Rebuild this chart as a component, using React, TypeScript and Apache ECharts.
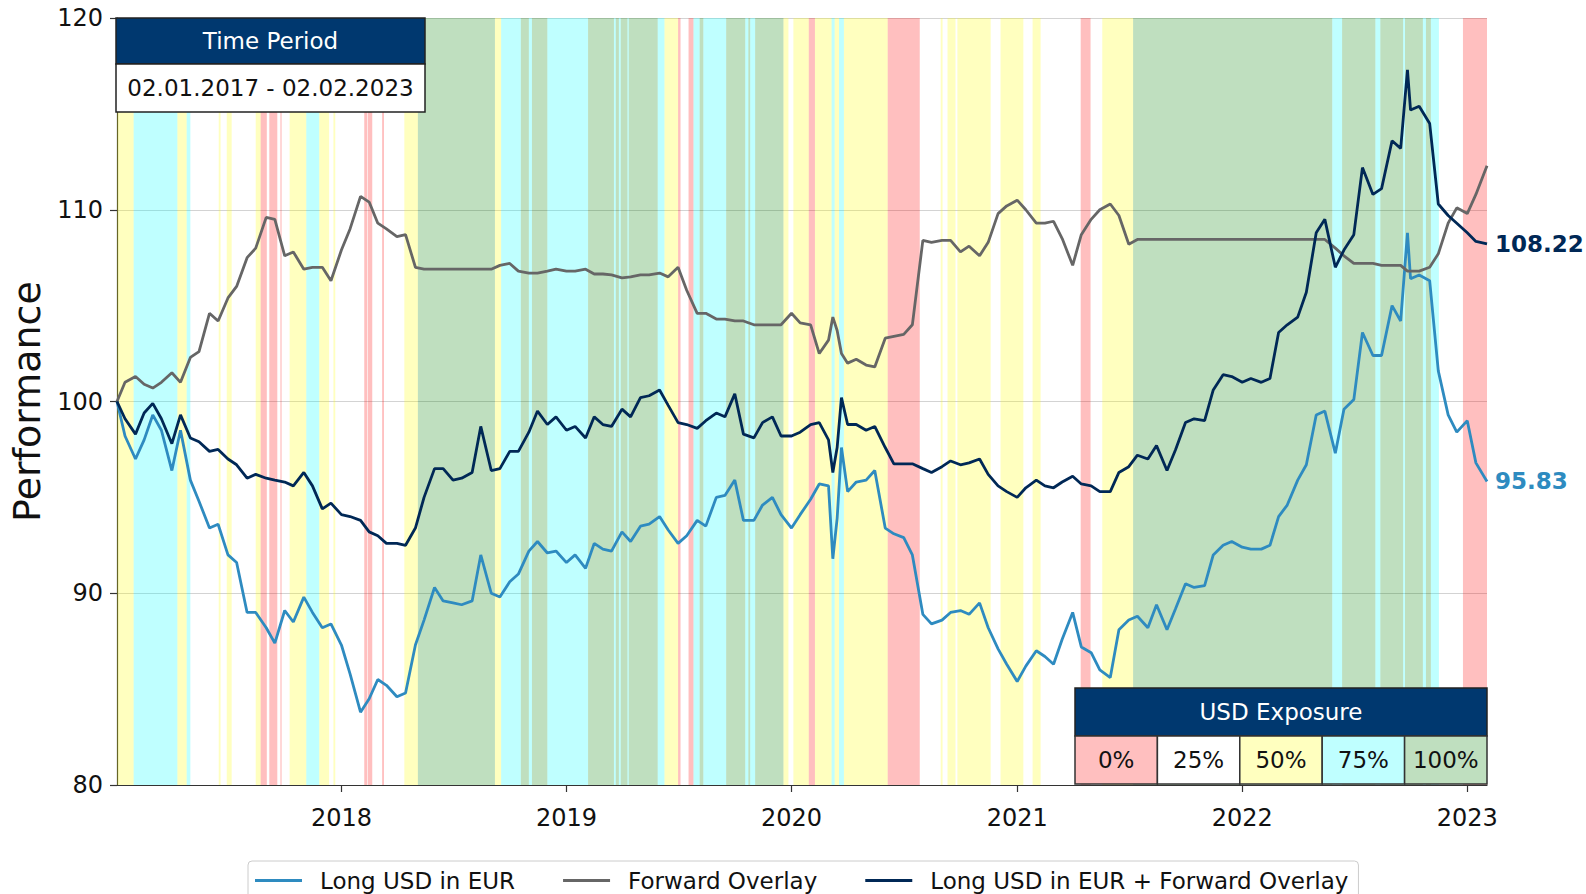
import React, { useEffect, useRef } from "react";
import * as echarts from "echarts";

const FONT = "DejaVu Sans";

const dates = [
  "2017-01-02", "2017-01-15", "2017-02-01", "2017-02-15", "2017-03-01", "2017-03-15", "2017-04-01", "2017-04-15",
  "2017-05-01", "2017-05-15", "2017-06-01", "2017-06-15", "2017-07-01", "2017-07-15", "2017-08-01", "2017-08-15",
  "2017-09-01", "2017-09-15", "2017-10-01", "2017-10-15", "2017-11-01", "2017-11-15", "2017-12-01", "2017-12-15",
  "2018-01-01", "2018-01-15", "2018-02-01", "2018-02-15", "2018-03-01", "2018-03-15", "2018-04-01", "2018-04-15",
  "2018-05-01", "2018-05-15", "2018-06-01", "2018-06-15", "2018-07-01", "2018-07-15", "2018-08-01", "2018-08-15",
  "2018-09-01", "2018-09-15", "2018-10-01", "2018-10-15", "2018-11-01", "2018-11-15", "2018-12-01", "2018-12-15",
  "2019-01-01", "2019-01-15", "2019-02-01", "2019-02-15", "2019-03-01", "2019-03-15", "2019-04-01", "2019-04-15",
  "2019-05-01", "2019-05-15", "2019-06-01", "2019-06-15", "2019-07-01", "2019-07-15", "2019-08-01", "2019-08-15",
  "2019-09-01", "2019-09-15", "2019-10-01", "2019-10-15", "2019-11-01", "2019-11-15", "2019-12-01", "2019-12-15",
  "2020-01-01", "2020-01-15", "2020-02-01", "2020-02-15", "2020-03-01", "2020-03-08", "2020-03-15", "2020-03-22",
  "2020-04-01", "2020-04-15", "2020-05-01", "2020-05-15", "2020-06-01", "2020-06-15", "2020-07-01", "2020-07-15",
  "2020-08-01", "2020-08-15", "2020-09-01", "2020-09-15", "2020-10-01", "2020-10-15", "2020-11-01", "2020-11-15",
  "2020-12-01", "2020-12-15", "2021-01-01", "2021-01-15", "2021-02-01", "2021-02-15", "2021-03-01", "2021-03-15",
  "2021-04-01", "2021-04-15", "2021-05-01", "2021-05-15", "2021-06-01", "2021-06-15", "2021-07-01", "2021-07-15",
  "2021-08-01", "2021-08-15", "2021-09-01", "2021-09-15", "2021-10-01", "2021-10-15", "2021-11-01", "2021-11-15",
  "2021-12-01", "2021-12-15", "2022-01-01", "2022-01-15", "2022-02-01", "2022-02-15", "2022-03-01", "2022-03-15",
  "2022-04-01", "2022-04-15", "2022-05-01", "2022-05-15", "2022-06-01", "2022-06-15", "2022-07-01", "2022-07-15",
  "2022-08-01", "2022-08-15", "2022-09-01", "2022-09-15", "2022-09-26", "2022-10-01", "2022-10-15", "2022-11-01",
  "2022-11-15", "2022-12-01", "2022-12-15", "2023-01-01", "2023-01-15", "2023-02-02",
];

const longUsdInEur = [
  100, 98.2, 97.0, 98.0, 99.3, 98.5, 96.4, 98.5,
  95.9, 94.8, 93.4, 93.6, 92.0, 91.6, 89.0, 89.0,
  88.2, 87.4, 89.1, 88.5, 89.8, 89.0, 88.2, 88.4,
  87.3, 85.8, 83.8, 84.5, 85.5, 85.2, 84.6, 84.8,
  87.3, 88.6, 90.3, 89.6, 89.5, 89.4, 89.6, 92.0,
  90.0, 89.8, 90.6, 91.0, 92.2, 92.7, 92.1, 92.2,
  91.6, 92.0, 91.3, 92.6, 92.3, 92.2, 93.2, 92.7,
  93.5, 93.6, 94.0, 93.3, 92.6, 93.0, 93.8, 93.5,
  95.0, 95.1, 95.9, 93.8, 93.8, 94.6, 95.0, 94.1,
  93.4, 94.1, 94.9, 95.7, 95.6, 91.8, 93.9, 97.6,
  95.3, 95.8, 95.9, 96.4, 93.4, 93.1, 92.9, 92.0,
  88.9, 88.4, 88.6, 89.0, 89.1, 88.9, 89.5, 88.2,
  87.1, 86.3, 85.4, 86.2, 87.0, 86.7, 86.3, 87.6,
  89.0, 87.2, 86.9, 86.0, 85.6, 88.1, 88.6, 88.8,
  88.2, 89.4, 88.1, 89.2, 90.5, 90.3, 90.4, 92.0,
  92.5, 92.7, 92.4, 92.3, 92.3, 92.5, 94.0, 94.6,
  95.9, 96.7, 99.3, 99.5, 97.3, 99.6, 100.1, 103.6,
  102.4, 102.4, 105.0, 104.2, 108.8, 106.4, 106.6, 106.3,
  101.6, 99.3, 98.4, 99.0, 96.8, 95.83,
];

const forwardOverlay = [
  100, 101.0, 101.3, 100.9, 100.7, 101.0, 101.5, 101.0,
  102.3, 102.6, 104.6, 104.2, 105.4, 106.0, 107.5, 108.0,
  109.6, 109.5, 107.6, 107.8, 106.9, 107.0, 107.0, 106.3,
  107.9, 109.0, 110.7, 110.4, 109.3, 109.0, 108.6, 108.7,
  107.0, 106.9, 106.9, 106.9, 106.9, 106.9, 106.9, 106.9,
  106.9, 107.1, 107.2, 106.8, 106.7, 106.7, 106.8, 106.9,
  106.8, 106.8, 106.9, 106.65, 106.65, 106.6, 106.45, 106.5,
  106.6, 106.6, 106.7, 106.5, 107.0, 105.8, 104.6, 104.6,
  104.3, 104.3, 104.2, 104.2, 104.0, 104.0, 104.0, 104.0,
  104.6, 104.1, 104.0, 102.5, 103.2, 104.4, 103.7, 102.5,
  102.0, 102.2, 101.9, 101.8, 103.3, 103.4, 103.5, 104.0,
  108.4, 108.3, 108.4, 108.4, 107.8, 108.1, 107.6, 108.3,
  109.8, 110.2, 110.5, 110.0, 109.3, 109.3, 109.4, 108.5,
  107.1, 108.7, 109.5, 110.0, 110.3, 109.7, 108.2, 108.45,
  108.45, 108.45, 108.45, 108.45, 108.45, 108.45, 108.45, 108.45,
  108.45, 108.45, 108.45, 108.45, 108.45, 108.45, 108.45, 108.45,
  108.45, 108.45, 108.45, 108.45, 108.0, 107.6, 107.2, 107.2,
  107.2, 107.1, 107.1, 107.1, 106.8, 106.8, 106.8, 107.0,
  107.7, 109.3, 110.1, 109.8, 110.8, 112.3,
];

const combinedOverlay = [
  100, 99.1, 98.3, 99.4, 99.9, 99.1, 97.8, 99.3,
  98.1, 97.9, 97.4, 97.5, 97.0, 96.7, 96.0, 96.2,
  96.0, 95.9, 95.8, 95.6, 96.3, 95.6, 94.4, 94.7,
  94.1, 94.0, 93.8, 93.2, 93.0, 92.6, 92.6, 92.5,
  93.4, 95.0, 96.5, 96.5, 95.9, 96.0, 96.3, 98.7,
  96.4, 96.5, 97.4, 97.4, 98.4, 99.5, 98.8, 99.2,
  98.5, 98.7, 98.1, 99.2, 98.8, 98.7, 99.6, 99.2,
  100.2, 100.3, 100.6, 99.8, 98.9, 98.8, 98.6, 99.0,
  99.4, 99.2, 100.4, 98.3, 98.1, 98.9, 99.2, 98.2,
  98.2, 98.4, 98.8, 98.9, 98.0, 96.3, 97.6, 100.2,
  98.8, 98.8, 98.5, 98.7, 97.6, 96.75, 96.75, 96.75,
  96.5, 96.3, 96.6, 96.9, 96.7, 96.8, 97.0, 96.2,
  95.6, 95.3, 95.0, 95.5, 95.9, 95.6, 95.5, 95.8,
  96.1, 95.7, 95.6, 95.3, 95.3, 96.3, 96.6, 97.2,
  97.0, 97.7, 96.4, 97.5, 98.9, 99.1, 99.0, 100.6,
  101.4, 101.3, 101.0, 101.2, 101.0, 101.2, 103.6, 104.0,
  104.4, 105.7, 108.8, 109.5, 107.0, 107.9, 108.7, 112.2,
  110.8, 111.1, 113.6, 113.2, 117.3, 115.2, 115.4, 114.5,
  110.3, 109.7, 109.3, 108.8, 108.35, 108.22,
];

const yearTicks = ["2018-01-01", "2019-01-01", "2020-01-01", "2021-01-01", "2022-01-01", "2023-01-01"];

// [start, end, USD exposure %]
const exposureBands: [string, string, number][] = [
  ["2017-01-02", "2017-01-29", 50], ["2017-01-29", "2017-04-10", 75], ["2017-04-10", "2017-04-25", 50],
  ["2017-04-25", "2017-05-01", 75], ["2017-05-01", "2017-06-16", 25], ["2017-06-16", "2017-06-19", 50],
  ["2017-06-19", "2017-06-29", 25], ["2017-06-29", "2017-07-07", 50], ["2017-07-07", "2017-08-15", 25],
  ["2017-08-15", "2017-08-23", 50], ["2017-08-23", "2017-09-02", 0], ["2017-09-02", "2017-09-06", 25],
  ["2017-09-06", "2017-09-19", 0], ["2017-09-19", "2017-09-24", 25], ["2017-09-24", "2017-09-26", 0],
  ["2017-09-26", "2017-10-09", 25], ["2017-10-09", "2017-11-05", 50], ["2017-11-05", "2017-11-26", 75],
  ["2017-11-26", "2017-12-12", 50], ["2017-12-12", "2017-12-19", 25], ["2017-12-19", "2017-12-22", 50],
  ["2017-12-22", "2018-02-07", 25], ["2018-02-07", "2018-02-12", 0], ["2018-02-12", "2018-02-13", 25],
  ["2018-02-13", "2018-02-20", 0], ["2018-02-20", "2018-03-08", 25], ["2018-03-08", "2018-03-11", 0],
  ["2018-03-11", "2018-04-13", 25], ["2018-04-13", "2018-05-05", 50], ["2018-05-05", "2018-09-07", 100],
  ["2018-09-07", "2018-09-17", 50], ["2018-09-17", "2018-10-19", 75], ["2018-10-19", "2018-11-01", 100],
  ["2018-11-01", "2018-11-06", 75], ["2018-11-06", "2018-12-01", 100], ["2018-12-01", "2019-02-05", 75],
  ["2019-02-05", "2019-03-19", 100], ["2019-03-19", "2019-03-22", 75], ["2019-03-22", "2019-03-27", 100],
  ["2019-03-27", "2019-03-30", 75], ["2019-03-30", "2019-04-10", 100], ["2019-04-10", "2019-04-12", 75],
  ["2019-04-12", "2019-05-29", 100], ["2019-05-29", "2019-06-09", 75], ["2019-06-09", "2019-07-01", 50],
  ["2019-07-01", "2019-07-05", 0], ["2019-07-05", "2019-07-18", 25], ["2019-07-18", "2019-07-26", 0],
  ["2019-07-26", "2019-08-05", 75], ["2019-08-05", "2019-08-11", 100], ["2019-08-11", "2019-09-17", 75],
  ["2019-09-17", "2019-10-18", 100], ["2019-10-18", "2019-10-23", 75], ["2019-10-23", "2019-10-26", 100],
  ["2019-10-26", "2019-11-03", 75], ["2019-11-03", "2019-12-19", 100], ["2019-12-19", "2019-12-27", 50],
  ["2019-12-27", "2020-01-04", 25], ["2020-01-04", "2020-01-29", 50], ["2020-01-29", "2020-02-08", 0],
  ["2020-02-08", "2020-03-06", 50], ["2020-03-06", "2020-03-11", 75], ["2020-03-11", "2020-03-18", 50],
  ["2020-03-18", "2020-03-26", 75], ["2020-03-26", "2020-06-05", 50], ["2020-06-05", "2020-07-27", 0],
  ["2020-07-27", "2020-08-30", 25], ["2020-08-30", "2020-09-02", 50], ["2020-09-02", "2020-09-10", 25],
  ["2020-09-10", "2020-09-23", 50], ["2020-09-23", "2020-09-26", 25], ["2020-09-26", "2020-11-19", 50],
  ["2020-11-19", "2020-12-05", 25], ["2020-12-05", "2021-01-11", 50], ["2021-01-11", "2021-01-26", 25],
  ["2021-01-26", "2021-02-08", 50], ["2021-02-08", "2021-04-14", 25], ["2021-04-14", "2021-04-30", 0],
  ["2021-04-30", "2021-05-19", 25], ["2021-05-19", "2021-07-08", 50], ["2021-07-08", "2022-05-27", 100],
  ["2022-05-27", "2022-06-12", 75], ["2022-06-12", "2022-08-05", 100], ["2022-08-05", "2022-08-13", 75],
  ["2022-08-13", "2022-09-19", 100], ["2022-09-19", "2022-09-22", 75], ["2022-09-22", "2022-10-21", 100],
  ["2022-10-21", "2022-10-26", 75], ["2022-10-26", "2022-11-03", 100], ["2022-11-03", "2022-11-16", 75],
  ["2022-11-16", "2022-12-25", 25], ["2022-12-25", "2023-02-02", 0],
];

const exposureLevels = [0, 25, 50, 75, 100];
const seriesNames = ["Long USD in EUR", "Forward Overlay", "Long USD in EUR + Forward Overlay"];
const timePeriodText = "02.01.2017 - 02.02.2023";

const NAVY_HEADER = "#00386f";
const C_LONG = "#2e8bc0";
const C_FWD = "#666666";
const C_COMB = "#002856";

const bandColors: Record<number, string> = {
  0: "rgba(255,0,0,0.25)",
  25: "rgba(255,255,255,0)",
  50: "rgba(255,255,0,0.25)",
  75: "rgba(0,255,255,0.25)",
  100: "rgba(0,128,0,0.25)",
};
const tableColors: Record<number, string> = {
  0: "#ffbfbf",
  25: "#ffffff",
  50: "#ffffbf",
  75: "#bfffff",
  100: "#bfdfbf",
};

function toTs(s: string): number {
  const [y, m, d] = s.split("-").map(Number);
  return new Date(y, m - 1, d).getTime();
}

export default function App() {
  const ref = useRef<HTMLDivElement>(null);

  useEffect(() => {
    if (!ref.current) return;
    const chart = echarts.init(ref.current, undefined, { renderer: "svg" });

    const mk = (vals: number[]) => dates.map((d, i) => [toTs(d), vals[i]]);
    const yearTs = yearTicks.map(toTs);

    const bands = exposureBands
      .filter((b) => b[2] !== 25)
      .map(([s, e, lvl]) => [
        { xAxis: toTs(s), itemStyle: { color: bandColors[lvl] } },
        { xAxis: toTs(e) },
      ]);

    const tpX = 116, tpW = 309;
    const ueX = 1075, ueW = 412, ueY = 688, cellW = ueW / exposureLevels.length;
    const graphics: any[] = [
      { type: "rect", z: 100, shape: { x: tpX, y: 18, width: tpW, height: 46 }, style: { fill: NAVY_HEADER, stroke: "#222", lineWidth: 1.5 } },
      { type: "text", z: 101, x: tpX + tpW / 2, y: 41, style: { text: "Time Period", fill: "#ffffff", fontSize: 23, fontFamily: FONT, align: "center", verticalAlign: "middle" } },
      { type: "rect", z: 100, shape: { x: tpX, y: 64, width: tpW, height: 48 }, style: { fill: "#ffffff", stroke: "#222", lineWidth: 1.5 } },
      { type: "text", z: 101, x: tpX + tpW / 2, y: 88, style: { text: timePeriodText, fill: "#111", fontSize: 23, fontFamily: FONT, align: "center", verticalAlign: "middle" } },
      { type: "rect", z: 100, shape: { x: ueX, y: ueY, width: ueW, height: 48 }, style: { fill: NAVY_HEADER, stroke: "#222", lineWidth: 1.5 } },
      { type: "text", z: 101, x: ueX + ueW / 2, y: ueY + 24, style: { text: "USD Exposure", fill: "#ffffff", fontSize: 23, fontFamily: FONT, align: "center", verticalAlign: "middle" } },
    ];
    exposureLevels.forEach((lvl, i) => {
      graphics.push({ type: "rect", z: 100, shape: { x: ueX + i * cellW, y: ueY + 48, width: cellW, height: 48 }, style: { fill: tableColors[lvl], stroke: "#333", lineWidth: 1.5 } });
      graphics.push({ type: "text", z: 101, x: ueX + i * cellW + cellW / 2, y: ueY + 72, style: { text: lvl + "%", fill: "#111", fontSize: 23, fontFamily: FONT, align: "center", verticalAlign: "middle" } });
    });

    const lineCommon = { type: "line", showSymbol: false, symbol: "none", silent: true, emphasis: { disabled: true } };
    const endLabel = (color: string) => ({
      show: true,
      formatter: (p: any) => Number(p.value[1]).toFixed(2),
      color,
      fontWeight: "bold",
      fontSize: 23,
      fontFamily: FONT,
      distance: 8,
    });

    chart.setOption({
      animation: false,
      backgroundColor: "#ffffff",
      grid: { left: 117, right: 99, top: 18, bottom: 109, containLabel: false },
      legend: {
        data: seriesNames,
        left: 248,
        top: 861,
        icon: "rect",
        itemWidth: 47,
        itemHeight: 3,
        itemGap: 48,
        padding: [8, 10, 8, 7],
        borderColor: "#cccccc",
        borderWidth: 1,
        borderRadius: 4,
        backgroundColor: "#ffffff",
        textStyle: { fontSize: 23, fontFamily: FONT, color: "#111", padding: [0, 0, 0, 13] },
      },
      xAxis: {
        type: "value",
        min: toTs("2017-01-02"),
        max: toTs("2023-02-02"),
        axisLine: { show: true, lineStyle: { color: "#333", width: 1.2 } },
        axisTick: { show: true, length: 7, customValues: yearTs, lineStyle: { color: "#333", width: 1.2 } },
        axisLabel: {
          customValues: yearTs,
          formatter: (v: number) => String(new Date(v).getFullYear()),
          fontSize: 24,
          fontFamily: FONT,
          color: "#111",
          margin: 21,
        },
        splitLine: { show: false },
      },
      yAxis: {
        type: "value",
        min: 80,
        max: 120,
        interval: 10,
        name: "Performance",
        nameLocation: "middle",
        nameGap: 60,
        nameTextStyle: { fontSize: 38, fontFamily: FONT, color: "#111" },
        axisLine: { show: true, lineStyle: { color: "#333", width: 1.2 } },
        axisTick: { show: true, length: 7, lineStyle: { color: "#333", width: 1.2 } },
        axisLabel: { fontSize: 24, fontFamily: FONT, color: "#111", margin: 14 },
        splitLine: { show: true, lineStyle: { color: "#d3d3d3", width: 1 } },
      },
      series: [
        {
          ...lineCommon,
          name: seriesNames[0],
          data: mk(longUsdInEur),
          lineStyle: { color: C_LONG, width: 2.8 },
          itemStyle: { color: C_LONG },
          endLabel: endLabel(C_LONG),
          markArea: { silent: true, data: bands },
        },
        {
          ...lineCommon,
          name: seriesNames[1],
          data: mk(forwardOverlay),
          lineStyle: { color: C_FWD, width: 2.8 },
          itemStyle: { color: C_FWD },
        },
        {
          ...lineCommon,
          name: seriesNames[2],
          data: mk(combinedOverlay),
          lineStyle: { color: C_COMB, width: 2.8 },
          itemStyle: { color: C_COMB },
          endLabel: endLabel(C_COMB),
        },
      ],
      graphic: graphics,
    });

    return () => chart.dispose();
  }, []);

  return <div ref={ref} style={{ position: "fixed", left: 0, top: 0, width: 1586, height: 894 }} />;
}
